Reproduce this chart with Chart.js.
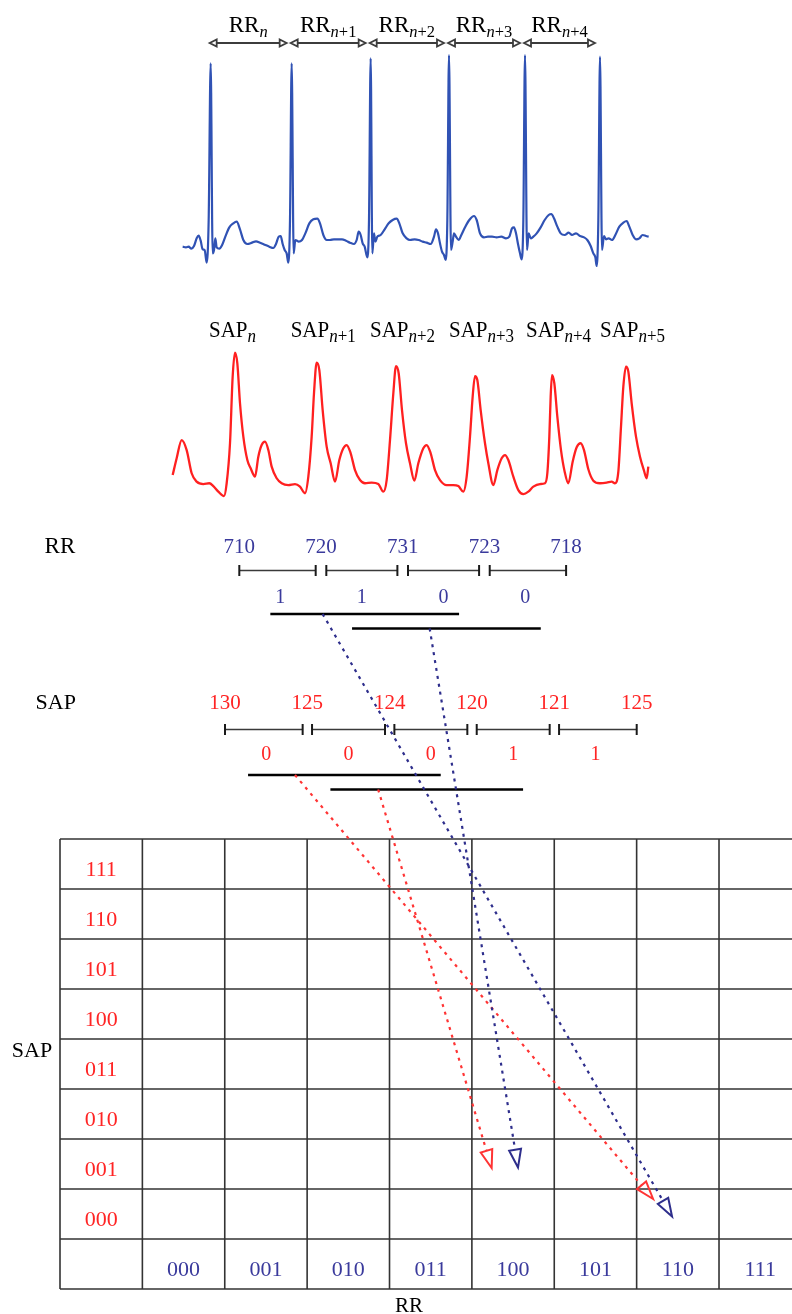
<!DOCTYPE html>
<html>
<head>
<meta charset="utf-8">
<script src="https://cdn.jsdelivr.net/npm/chart.js@4.4.1/dist/chart.umd.min.js"></script>
<style>
  body { margin: 0; background: #fff; }
  #page { position: relative; width: 792px; height: 1314px; overflow: hidden; background: #fff; }
  canvas { position: absolute; }
</style>
</head>
<body>
<div id="page">
  <canvas id="ecgChart" width="490" height="275" style="left:170px;top:0px"></canvas>
  <canvas id="sapChart" width="520" height="190" style="left:160px;top:310px"></canvas>
  <canvas id="symChart" width="792" height="794" style="left:0px;top:520px"></canvas>
</div>
<script>
// ============================================================
//  DATA
// ============================================================
// ECG trace : sample index / amplitude (a.u.)
const ecgTime = [
  38,48,56,64,72,80,86,92,98,104,110,116,122,
  128,132,136,140,148,156,166,178,190,200,210,220,232,246,258,270,284,298,310,318,326,332,338,344,350,355,360,365,
  371,376,381,386,396,406,418,430,442,450,460,470,480,492,504,516,528,540,552,560,566,572,578,584,592,597,602,
  607,612,616,622,632,644,656,668,680,688,698,710,720,734,746,758,770,782,792,798,804,810,816,822,827,832,837,
  843,848,852,858,866,874,886,898,912,920,930,942,954,966,980,994,1008,1018,1026,1032,1038,1044,1050,1055,1060,1065,
  1071,1076,1082,1090,1100,1112,1124,1136,1144,1152,1162,1172,1184,1196,1206,1218,1230,1242,1252,1262,1270,1276,1280,1285,1290,
  1296,1302,1308,1316,1326,1336,1348,1360,1370,1378,1388,1398,1408,1418,1428,1436
];
const ecgAmp = [
  0,-2,0,-6,2,25,33,18,-8,-10,-48,80,550,
  -20,-10,25,-2,-6,4,30,58,70,75,52,20,8,12,16,12,6,0,-4,8,30,32,8,-10,-20,-48,80,550,
  -20,20,18,15,20,40,70,82,84,70,35,20,20,22,22,22,18,12,8,20,45,35,10,0,-32,80,565,
  -20,40,15,30,35,52,70,80,84,70,40,25,20,22,20,15,12,8,30,52,40,10,-15,-25,-40,80,575,
  -10,15,40,30,20,35,60,80,92,80,40,28,30,30,28,30,25,30,55,58,40,8,-20,-38,80,575,
  -10,40,25,30,40,58,80,95,98,85,60,40,35,42,35,40,32,28,20,2,-20,-32,-58,80,570,
  -10,32,22,25,20,35,60,72,77,60,35,22,25,35,32,30
];
const rPeakTime = [122, 365, 602, 837, 1065, 1290];
const rrSubs = ['n', 'n+1', 'n+2', 'n+3', 'n+4'];

// arterial pressure trace : sample index / mmHg
const sapTime = [
  38,50,65,80,95,110,130,148,160,175,192,
  200,210,218,225,232,240,250,262,272,285,295,305,315,325,335,350,365,385,405,420,435,
  445,455,462,470,478,488,500,512,525,538,550,560,572,585,600,615,635,655,670,
  680,690,700,708,716,726,738,750,763,775,790,800,812,825,840,860,880,895,910,
  920,930,938,945,952,962,975,985,1000,1012,1025,1035,1045,1060,1075,1090,1105,1120,1140,1155,
  1162,1168,1172,1176,1183,1192,1203,1214,1225,1238,1250,1262,1272,1285,1300,1320,1340,1355,1365,
  1375,1383,1390,1398,1405,1415,1428,1440,1452,1460,1465
];
const sapPressure = [
  68.8,77.2,86.3,81.3,69.7,65.5,64.3,64.7,63.3,60.5,58.3,
  64.7,84.7,118,130,124.7,104.7,88,76.3,72.2,68,78,83.8,85.5,81.3,73,67.2,64.7,63.8,64.3,63,59.7,
  68,88,109.7,125,121.3,101.3,83,74.7,65.5,76.3,82.2,83.8,79.7,71.3,66.3,64.7,65,64.3,60.5,
  66.3,86.3,109.7,123.3,119.7,101.3,84.7,74.7,66,74.7,82.2,83.8,79.7,71.3,66.3,63.8,63.8,63.3,60.5,
  68,88,108,118.3,116.3,101.3,84.7,74.7,63.8,71.3,77.2,78.8,76.3,68,61.3,59.3,60.5,63,64.3,64.7,
  69.7,88,108,118.8,114.7,98,81.3,70.5,64.7,75.5,82.7,84.7,81.3,71.7,66,64.7,65,65.5,64.7,
  70.5,93,113,123,120.5,104.7,88,78,71,67.2,73
];
const sapPeakTime = [225, 470, 708, 945, 1176, 1398];
const sapSubs = ['n', 'n+1', 'n+2', 'n+3', 'n+4', 'n+5'];

// beat-to-beat values
const rrValues  = [710, 720, 731, 723, 718];
const sapValues = [130, 125, 124, 120, 121, 125];
const codeLabels = ['000', '001', '010', '011', '100', '101', '110', '111'];
const wordLength = 3;
const wordCount  = 2;

// ============================================================
//  DERIVED SYMBOLS
// ============================================================
const rrBits  = rrValues.slice(1).map((v, i) => (v > rrValues[i] ? 1 : 0));
const sapBits = sapValues.slice(1).map((v, i) => (v > sapValues[i] ? 1 : 0));
const wordCode = (bits, k) => parseInt(bits.slice(k, k + wordLength).join(''), 2);
const rrWords  = Array.from({ length: wordCount }, (_, k) => wordCode(rrBits, k));
const sapWords = Array.from({ length: wordCount }, (_, k) => wordCode(sapBits, k));

// ============================================================
//  LAYOUT / STYLE
// ============================================================
const SERIF = '"Liberation Serif", "Times New Roman", serif';
const BLUE_TXT = '#3a3a9c';
const RED_TXT  = '#ff2424';
const BLUE_DOT = '#2e2e8c';
const RED_DOT  = '#ff3434';

const L = {
  rrBarRow: 14.37, rrWordRows: [13.5, 13.21], rrGap: 0.065, rrWordFrom: 0.38, rrWordTo: 2.69,
  sapBarRow: 11.19, sapWordRows: [10.28, 9.99], sapGap: 0.057, sapWordFrom: 0.28, sapWordTo: 2.62,
  rrArrowStart: [1.02, 2.33], sapArrowStart: [0.85, 1.86],
  blueTip: [[0.43, 0.55], [0.56, 0.57]],
  redTip:  [[0.20, 0.20], [0.24, 0.58]]
};

const base = {
  responsive: false,
  animation: false,
  events: [],
  layout: { padding: 0, autoPadding: false },
  plugins: { legend: { display: false }, tooltip: { enabled: false } }
};

function subLabel(ctx, main, sub, x, y, o) {
  ctx.font = o.size + 'px ' + SERIF;
  const wMain = ctx.measureText(main).width;
  const rest = sub.slice(1);
  ctx.font = 'italic ' + o.subSize + 'px ' + SERIF;
  const wN = ctx.measureText('n').width;
  ctx.font = o.subSize + 'px ' + SERIF;
  const wRest = ctx.measureText(rest).width;
  const left = o.center ? x - (wMain + wN + wRest) / 2 : x;
  ctx.save();
  ctx.translate(0, y);
  ctx.scale(1, o.sy || 1);
  ctx.fillStyle = '#000';
  ctx.textAlign = 'left';
  ctx.textBaseline = 'alphabetic';
  ctx.font = o.size + 'px ' + SERIF;
  ctx.fillText(main, left, 0);
  ctx.font = 'italic ' + o.subSize + 'px ' + SERIF;
  ctx.fillText('n', left + wMain, o.drop);
  ctx.font = o.subSize + 'px ' + SERIF;
  ctx.fillText(rest, left + wMain + wN, o.drop);
  ctx.restore();
}

function doubleArrow(ctx, x0, x1, y) {
  const hl = 7, hh = 3.5;
  ctx.save();
  ctx.strokeStyle = '#3c3c3c';
  ctx.lineWidth = 1.8;
  ctx.beginPath();
  ctx.moveTo(x0 + hl, y);
  ctx.lineTo(x1 - hl, y);
  ctx.stroke();
  [[x0, 1], [x1, -1]].forEach(([tx, d]) => {
    ctx.beginPath();
    ctx.moveTo(tx, y);
    ctx.lineTo(tx + d * hl, y - hh);
    ctx.lineTo(tx + d * hl, y + hh);
    ctx.closePath();
    ctx.fillStyle = '#fff';
    ctx.fill();
    ctx.stroke();
  });
  ctx.restore();
}

function dottedArrow(ctx, x0, y0, x1, y1, color) {
  const dx = x1 - x0, dy = y1 - y0, len = Math.hypot(dx, dy);
  const ux = dx / len, uy = dy / len;
  const hl = 18, hw = 6;
  const bx = x1 - ux * hl, by = y1 - uy * hl;
  ctx.save();
  ctx.strokeStyle = color;
  ctx.lineWidth = 2.2;
  ctx.setLineDash([3, 5]);
  ctx.beginPath();
  ctx.moveTo(x0, y0);
  ctx.lineTo(bx, by);
  ctx.stroke();
  ctx.setLineDash([]);
  ctx.lineWidth = 2;
  ctx.beginPath();
  ctx.moveTo(x1, y1);
  ctx.lineTo(bx - uy * hw, by + ux * hw);
  ctx.lineTo(bx + uy * hw, by - ux * hw);
  ctx.closePath();
  ctx.stroke();
  ctx.restore();
}

function text(ctx, s, x, y, color, size, align) {
  ctx.fillStyle = color;
  ctx.font = size + 'px ' + SERIF;
  ctx.textAlign = align || 'center';
  ctx.textBaseline = 'alphabetic';
  ctx.fillText(s, x, y);
}

// ============================================================
//  ECG
// ============================================================
const rrLabelPlugin = {
  id: 'rrLabels',
  afterDatasetsDraw(chart) {
    const { ctx, scales: { x } } = chart;
    for (let i = 0; i < rPeakTime.length - 1; i++) {
      const x0 = x.getPixelForValue(rPeakTime[i]) - 1;
      const x1 = x.getPixelForValue(rPeakTime[i + 1]) - 5;
      doubleArrow(ctx, x0, x1, 43);
      subLabel(ctx, 'RR', rrSubs[i], (x0 + x1) / 2, 32, { size: 23, subSize: 16.5, drop: 5, center: true });
    }
  }
};

new Chart(document.getElementById('ecgChart'), {
  type: 'scatter',
  data: {
    datasets: [{
      data: ecgTime.map((t, i) => ({ x: t, y: ecgAmp[i] })),
      showLine: true,
      borderColor: '#3052b4',
      borderWidth: 2.2,
      pointRadius: 0,
      cubicInterpolationMode: 'monotone'
    }]
  },
  options: Object.assign({}, base, {
    scales: {
      x: { type: 'linear', min: 0, max: 1470, display: false },
      y: { type: 'linear', min: -85, max: 740, display: false }
    }
  }),
  plugins: [rrLabelPlugin]
});

// ============================================================
//  SAP
// ============================================================
const sapLabelPlugin = {
  id: 'sapLabels',
  afterDatasetsDraw(chart) {
    const { ctx, scales: { x } } = chart;
    sapPeakTime.forEach((t, i) => {
      subLabel(ctx, 'SAP', sapSubs[i], x.getPixelForValue(t) - 26, 26.7,
        { size: 21, subSize: 17, drop: 4.5, sy: 1.08 });
    });
  }
};

new Chart(document.getElementById('sapChart'), {
  type: 'scatter',
  data: {
    datasets: [{
      data: sapTime.map((t, i) => ({ x: t, y: sapPressure[i] })),
      showLine: true,
      borderColor: '#ff2020',
      borderWidth: 2.3,
      pointRadius: 0,
      cubicInterpolationMode: 'monotone'
    }]
  },
  options: Object.assign({}, base, {
    scales: {
      x: { type: 'linear', min: 0, max: 1560, display: false },
      y: { type: 'linear', min: 56.33, max: 151.33, display: false }
    }
  }),
  plugins: [sapLabelPlugin]
});

// ============================================================
//  SYMBOLIC DIAGRAM + GRID
// ============================================================
const tickStyle = {
  showLine: true,
  borderColor: '#3a3a3a',
  borderWidth: 1.5,
  pointStyle: 'line',
  pointRotation: 90,
  pointRadius: 5.5,
  pointBorderWidth: 2,
  pointBorderColor: '#1a1a1a'
};
const wordStyle = { showLine: true, borderColor: '#000', borderWidth: 2.6, pointRadius: 0 };

function intervalSets(bits, axis, row, gap) {
  return bits.map((b, i) => Object.assign({
    xAxisID: axis,
    data: [
      { x: i + (i > 0 ? gap : 0), y: row },
      { x: i + 1 - (i < bits.length - 1 ? gap : 0), y: row }
    ]
  }, tickStyle));
}
function wordSets(axis, rows, from, to) {
  return rows.map((row, k) => Object.assign({
    xAxisID: axis,
    data: [{ x: k + from, y: row }, { x: k + to, y: row }]
  }, wordStyle));
}

const symPlugin = {
  id: 'symbols',
  beforeDatasetsDraw(chart) {
    const { ctx, scales: { x, y } } = chart;
    const n = codeLabels.length;
    ctx.save();
    ctx.strokeStyle = '#333';
    ctx.lineWidth = 1.6;
    const top = y.getPixelForValue(n + 1), bot = y.getPixelForValue(0);
    const left = x.getPixelForValue(0), right = x.getPixelForValue(n + 1);
    for (let c = 0; c <= n + 1; c++) {
      const px = x.getPixelForValue(c);
      ctx.beginPath(); ctx.moveTo(px, top); ctx.lineTo(px, bot); ctx.stroke();
    }
    for (let r = 0; r <= n + 1; r++) {
      const py = y.getPixelForValue(r);
      ctx.beginPath(); ctx.moveTo(left, py); ctx.lineTo(right, py); ctx.stroke();
    }
    codeLabels.forEach((lab, i) => {
      text(ctx, lab, x.getPixelForValue(0.5), y.getPixelForValue(i + 1.5) + 11.5, RED_TXT, 22);
      text(ctx, lab, x.getPixelForValue(i + 1.5), y.getPixelForValue(0.5) + 11.5, BLUE_TXT, 22);
    });
    text(ctx, 'SAP', 32, y.getPixelForValue(n / 2 + 0.5) - 7, '#000', 22);
    text(ctx, 'RR', 409, bot + 23, '#000', 21);
    ctx.restore();
  },
  afterDatasetsDraw(chart) {
    const { ctx, scales: { x, y, xRR, xSAP } } = chart;
    ctx.save();
    // beat values and symbols
    const rrY = y.getPixelForValue(L.rrBarRow);
    text(ctx, 'RR', 44.6, rrY - 17.7, '#000', 23, 'left');
    rrValues.forEach((v, i) => text(ctx, String(v), xRR.getPixelForValue(i), rrY - 17.7, BLUE_TXT, 21));
    rrBits.forEach((b, i) => text(ctx, String(b), xRR.getPixelForValue(i + 0.5), rrY + 32, BLUE_TXT, 20));

    const sapY = y.getPixelForValue(L.sapBarRow);
    text(ctx, 'SAP', 35.6, sapY - 20.5, '#000', 22, 'left');
    sapValues.forEach((v, i) => text(ctx, String(v), xSAP.getPixelForValue(i), sapY - 21, RED_TXT, 21));
    sapBits.forEach((b, i) => text(ctx, String(b), xSAP.getPixelForValue(i + 0.5), sapY + 30.7, RED_TXT, 20));

    // words -> grid cell
    for (let k = 0; k < wordCount; k++) {
      const col = rrWords[k] + 1, row = sapWords[k] + 1;
      dottedArrow(ctx,
        xRR.getPixelForValue(L.rrArrowStart[k]), y.getPixelForValue(L.rrWordRows[k]),
        x.getPixelForValue(col + L.blueTip[k][0]), y.getPixelForValue(row + 1 - L.blueTip[k][1]),
        BLUE_DOT);
      dottedArrow(ctx,
        xSAP.getPixelForValue(L.sapArrowStart[k]), y.getPixelForValue(L.sapWordRows[k]),
        x.getPixelForValue(col + L.redTip[k][0]), y.getPixelForValue(row + 1 - L.redTip[k][1]),
        RED_DOT);
    }
    ctx.restore();
  }
};

new Chart(document.getElementById('symChart'), {
  type: 'scatter',
  data: {
    datasets: [].concat(
      intervalSets(rrBits, 'xRR', L.rrBarRow, L.rrGap),
      intervalSets(sapBits, 'xSAP', L.sapBarRow, L.sapGap),
      wordSets('xRR', L.rrWordRows, L.rrWordFrom, L.rrWordTo),
      wordSets('xSAP', L.sapWordRows, L.sapWordFrom, L.sapWordTo)
    )
  },
  options: Object.assign({}, base, {
    scales: {
      x:    { type: 'linear', axis: 'x', min: -0.7284, max: 8.886, display: false },
      xRR:  { type: 'linear', axis: 'x', min: -2.929, max: 6.765, display: false },
      xSAP: { type: 'linear', axis: 'x', min: -2.7326, max: 6.886, display: false },
      y:    { type: 'linear', axis: 'y', min: -0.5, max: 15.38, display: false }
    }
  }),
  plugins: [symPlugin]
});
</script>
</body>
</html>
